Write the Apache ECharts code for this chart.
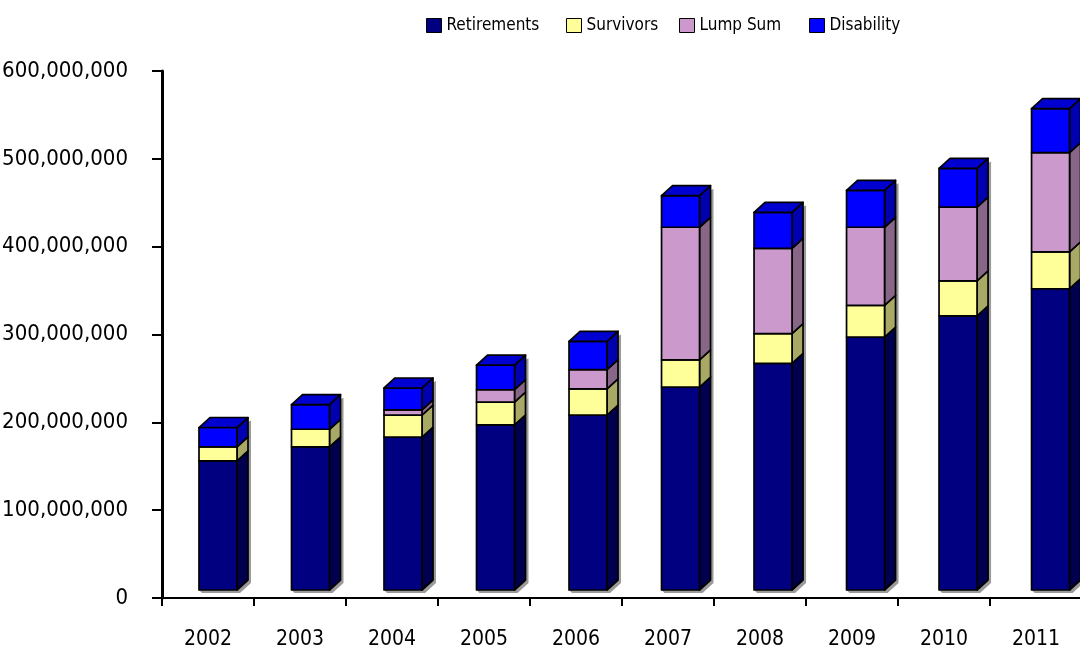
<!DOCTYPE html>
<html>
<head>
<meta charset="utf-8">
<script src="https://cdn.jsdelivr.net/npm/echarts@6/dist/echarts.min.js"></script>
<style>
  html, body { margin: 0; padding: 0; background: #ffffff; }
  #chart { width: 1080px; height: 655px; }
</style>
</head>
<body>
<div id="chart"></div>
<script>
// Benefit payments by type, 2002-2011
const years = ['2002', '2003', '2004', '2005', '2006', '2007', '2008', '2009', '2010', '2011'];
const retirements = [147000000, 163000000, 174000000, 188000000, 199000000, 231000000, 258000000, 288000000, 312000000, 343000000];
const survivors   = [16000000, 20000000, 25000000, 26000000, 30000000, 31000000, 34000000, 36000000, 40000000, 42000000];
const lumpSum     = [0, 0, 6000000, 14000000, 22000000, 151000000, 97000000, 89000000, 84000000, 113000000];
const disability  = [22000000, 28000000, 25000000, 28000000, 32000000, 36000000, 41000000, 42000000, 44000000, 50000000];
const yTicks = { min: 0, max: 600000000, interval: 100000000 };

const FONT = '"DejaVu Sans Condensed", "Liberation Sans Narrow", sans-serif';

// face colours: front, side, top
const palette = {
  'Retirements': { front: '#000080', side: '#00004e', top: '#00006a' },
  'Survivors':   { front: '#ffff99', side: '#a9a966', top: '#d6d680' },
  'Lump Sum':    { front: '#cc99cc', side: '#886688', top: '#aa80aa' },
  'Disability':  { front: '#0000ff', side: '#0000b0', top: '#0000d0' }
};

const seriesDefs = [
  ['Retirements', retirements],
  ['Survivors', survivors],
  ['Lump Sum', lumpSum],
  ['Disability', disability]
];
const legendLeft = [421, 561, 674, 804];

// 3D box geometry (pixels)
const W = 38, DX = 11, DY = 10, LIFT = 8;

const totals = years.map((_, i) => seriesDefs.reduce((s, d) => s + d[1][i], 0));

function makeRender(name, isTopSeries, isBase) {
  const c = palette[name];
  return function (params, api) {
    const i = api.value(0), b = api.value(1), t = api.value(2);
    if (t - b <= 0) return null;
    const pb = api.coord([i, b]);
    const pt = api.coord([i, t]);
    const cx = pb[0];
    const x0 = cx - 9 + (cx - 208) * 0.0055;
    const x1 = x0 + W;
    const yb = pb[1] - LIFT;
    const yt = pt[1] - LIFT;
    const stroke = { stroke: '#000', lineWidth: 1.7, lineJoin: 'round' };
    const children = [];
    if (isBase) {
      // soft drop shadow behind the whole column
      const ytot = api.coord([i, api.value(3)])[1] - LIFT;
      const s = 3;
      children.push({
        type: 'polygon',
        shape: { points: [[x0 + s, yb + s], [x1 + s, yb + s], [x1 + DX + s, yb - DY + s], [x1 + DX + s, ytot - DY + s], [x1, ytot], [x0, yb]] },
        style: { fill: '#9a9a9a' },
        z2: 0
      });
    }
    children.push({
      type: 'polygon',
      shape: { points: [[x1, yb], [x1 + DX, yb - DY], [x1 + DX, yt - DY], [x1, yt]] },
      style: Object.assign({ fill: c.side }, stroke),
      z2: 1
    });
    children.push({
      type: 'rect',
      shape: { x: x0, y: yt, width: W, height: yb - yt },
      style: Object.assign({ fill: c.front }, stroke),
      z2: 2
    });
    if (isTopSeries) {
      children.push({
        type: 'polygon',
        shape: { points: [[x0, yt], [x0 + DX, yt - DY], [x1 + DX, yt - DY], [x1, yt]] },
        style: Object.assign({ fill: c.top }, stroke),
        z2: 3
      });
    }
    return { type: 'group', children: children };
  };
}

const cumulative = years.map(() => 0);
const series = seriesDefs.map(([name, values], k) => {
  const data = values.map((v, i) => {
    const b = cumulative[i];
    cumulative[i] += v;
    return [i, b, b + v, totals[i]];
  });
  return {
    name: name,
    type: 'custom',
    renderItem: makeRender(name, k === seriesDefs.length - 1, k === 0),
    encode: { x: 0, y: [1, 2] },
    itemStyle: { color: palette[name].front, borderColor: '#000', borderWidth: 1 },
    data: data,
    z: 2 + k
  };
});

const legends = seriesDefs.map(([name], k) => ({
  left: legendLeft[k],
  top: 12,
  icon: 'rect',
  itemWidth: 15,
  itemHeight: 14,
  itemStyle: { borderColor: '#000', borderWidth: 1 },
  textStyle: { fontFamily: FONT, fontSize: 17, color: '#000', padding: [0, 0, 0, 0] },
  data: [name]
}));

const chart = echarts.init(document.getElementById('chart'), null, { renderer: 'canvas' });
chart.setOption({
  animation: false,
  backgroundColor: '#ffffff',
  legend: legends,
  grid: { left: 162, top: 71, width: 920, bottom: 57, containLabel: false, outerBoundsMode: 'none' },
  xAxis: {
    type: 'category',
    data: years,
    boundaryGap: true,
    axisLine: { show: true, lineStyle: { color: '#000', width: 2 } },
    axisTick: { show: true, length: 8, lineStyle: { color: '#000', width: 2 } },
    axisLabel: { fontFamily: FONT, fontSize: 21, color: '#000', margin: 31 },
    splitLine: { show: false }
  },
  yAxis: {
    type: 'value',
    min: yTicks.min,
    max: yTicks.max,
    interval: yTicks.interval,
    axisLine: { show: true, lineStyle: { color: '#000', width: 3 } },
    axisTick: { show: true, length: 10, lineStyle: { color: '#000', width: 2 } },
    axisLabel: {
      fontFamily: FONT, fontSize: 22, color: '#000', margin: 34,
      formatter: v => v.toLocaleString('en-US')
    },
    splitLine: { show: false }
  },
  series: series
});
</script>
</body>
</html>
